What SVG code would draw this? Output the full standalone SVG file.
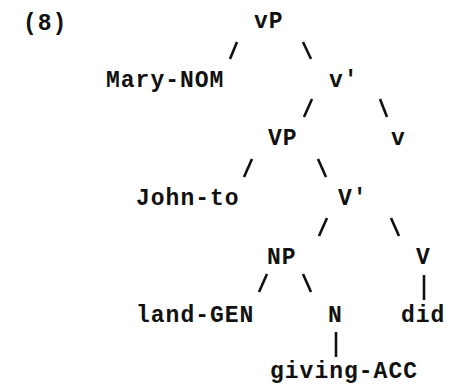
<svg xmlns="http://www.w3.org/2000/svg" width="449" height="384" viewBox="0 0 449 384">
  <style>
    text { font-family: "Liberation Mono", "Courier New", monospace; font-weight: bold; font-size: 23px; letter-spacing: 1px; fill: #111; }
    .edge { stroke: #111; stroke-width: 2.6; stroke-linecap: butt; fill: none; }
  </style>
  <rect width="449" height="384" fill="#fff"/>
  <text id="example-number" x="23" y="30">(8)</text>

  <g id="connectors">
    <!-- vP -->
    <line class="edge" x1="237" y1="42" x2="230" y2="59"/>
    <line class="edge" x1="303" y1="42" x2="311" y2="59"/>
    <!-- v' -->
    <line class="edge" x1="312" y1="99" x2="304" y2="117"/>
    <line class="edge" x1="380" y1="99" x2="387" y2="117"/>
    <!-- VP -->
    <line class="edge" x1="252" y1="159" x2="244" y2="177"/>
    <line class="edge" x1="318" y1="159" x2="326" y2="177"/>
    <!-- V' -->
    <line class="edge" x1="327" y1="218" x2="319" y2="236"/>
    <line class="edge" x1="391" y1="218" x2="399" y2="236"/>
    <!-- NP -->
    <line class="edge" x1="267" y1="274" x2="259" y2="292"/>
    <line class="edge" x1="303" y1="274" x2="311" y2="292"/>
    <!-- V and N -->
    <line class="edge" x1="424" y1="275" x2="424" y2="300"/>
    <line class="edge" x1="336" y1="332" x2="336" y2="357"/>
  </g>

  <g id="vP"><text x="254" y="28">vP</text></g>
  <g id="Mary-NOM"><text x="106" y="87">Mary-NOM</text></g>
  <g id="v-bar"><text x="329" y="87">v'</text></g>
  <g id="VP"><text x="268" y="145">VP</text></g>
  <g id="v"><text x="391" y="145">v</text></g>
  <g id="John-to"><text x="136" y="205">John-to</text></g>
  <g id="V-bar"><text x="338" y="205">V'</text></g>
  <g id="NP"><text x="267" y="264">NP</text></g>
  <g id="V"><text x="416" y="264">V</text></g>
  <g id="land-GEN"><text x="136" y="322">land-GEN</text></g>
  <g id="N"><text x="328" y="322">N</text></g>
  <g id="did"><text x="401" y="322">did</text></g>
  <g id="giving-ACC"><text x="270" y="378">giving-ACC</text></g>
</svg>
